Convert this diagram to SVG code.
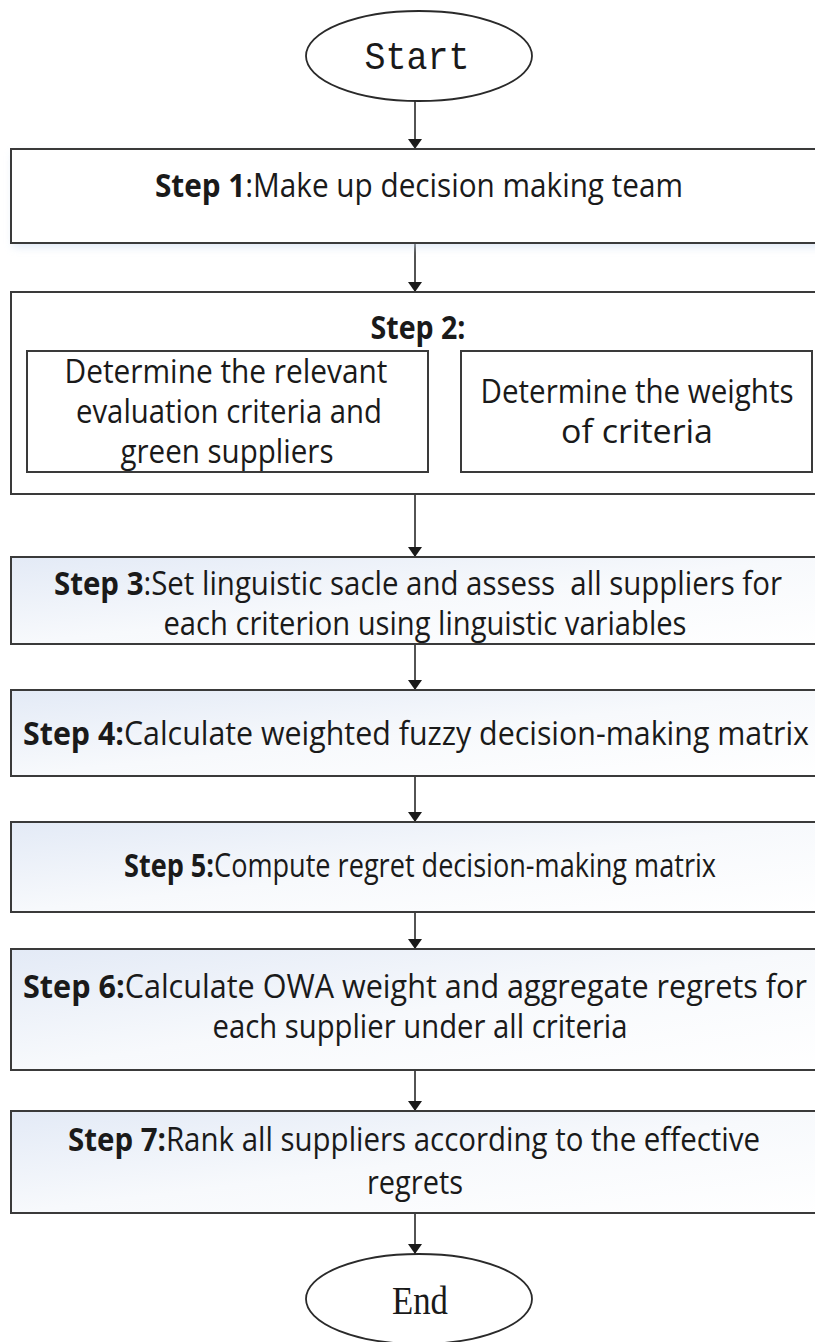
<svg xmlns="http://www.w3.org/2000/svg" width="815" height="1342" viewBox="0 0 815 1342">
<defs>
<style>
.box{fill:#ffffff;stroke:#3a3a3a;stroke-width:2}
.gbox{fill:url(#grad);stroke:#3a3a3a;stroke-width:2}
.t{font-family:"Open Sans","Liberation Sans",sans-serif;font-size:32px;fill:#1a1a1a;text-anchor:middle}
.b{font-weight:bold}
.conn{stroke:#1a1a1a;stroke-width:1.5;fill:none;marker-end:url(#arr)}
.ell{fill:#ffffff;stroke:#2a2a2a;stroke-width:1.8}
</style>
<linearGradient id="grad" x1="0" y1="0" x2="1" y2="1">
<stop offset="0" stop-color="#e3eaf6"/>
<stop offset="0.5" stop-color="#f7f9fc"/>
<stop offset="1" stop-color="#ffffff"/>
</linearGradient>
<filter id="sh" x="-5%" y="-20%" width="110%" height="150%">
<feGaussianBlur stdDeviation="4"/>
</filter>
<marker id="arr" viewBox="0 0 10 14" refX="10" refY="7" markerWidth="10" markerHeight="14" markerUnits="userSpaceOnUse" orient="auto">
<path d="M0,0 L10,7 L0,14 Z" fill="#1a1a1a"/>
</marker>
</defs>
<rect width="815" height="1342" fill="#ffffff"/>

<g id="connectors">
<line class="conn" x1="415" y1="101" x2="415" y2="149"/>
<line class="conn" x1="415" y1="243" x2="415" y2="292"/>
<line class="conn" x1="415" y1="494" x2="415" y2="557"/>
<line class="conn" x1="415" y1="644" x2="415" y2="690"/>
<line class="conn" x1="415" y1="776" x2="415" y2="822"/>
<line class="conn" x1="415" y1="912" x2="415" y2="949"/>
<line class="conn" x1="415" y1="1070" x2="415" y2="1111"/>
<line class="conn" x1="415" y1="1213" x2="415" y2="1254"/>
</g>

<g id="start">
<ellipse class="ell" cx="419" cy="56" rx="113" ry="45"/>
<text x="417" y="69" font-family="Liberation Mono, monospace" font-size="38" fill="#1a1a1a" text-anchor="middle" textLength="105" lengthAdjust="spacingAndGlyphs">Start</text>
</g>

<g id="step1">
<rect x="13" y="153" width="820" height="94" fill="#c9d8ef" filter="url(#sh)" opacity="0.6"/>
<rect class="box" x="11" y="149" width="820" height="94"/>
<text class="t" x="419" y="197" textLength="528" lengthAdjust="spacingAndGlyphs"><tspan class="b">Step 1</tspan>:Make up decision making team</text>
</g>

<g id="step2">
<rect class="box" x="11" y="292" width="820" height="202"/>
<text class="t b" x="418" y="339" textLength="95" lengthAdjust="spacingAndGlyphs">Step 2:</text>
<g id="step2a">
<rect class="box" x="27" y="351" width="401" height="121" stroke-width="1.6"/>
<text class="t" x="226" y="383" textLength="323" lengthAdjust="spacingAndGlyphs">Determine the relevant</text>
<text class="t" x="229" y="423" textLength="306" lengthAdjust="spacingAndGlyphs">evaluation criteria and</text>
<text class="t" x="227" y="463" textLength="213" lengthAdjust="spacingAndGlyphs">green suppliers</text>
</g>
<g id="step2b">
<rect class="box" x="461" y="351" width="351" height="121" stroke-width="1.6"/>
<text class="t" x="637" y="403" textLength="313" lengthAdjust="spacingAndGlyphs">Determine the weights</text>
<text class="t" x="637" y="443" textLength="152" lengthAdjust="spacingAndGlyphs">of criteria</text>
</g>
</g>

<g id="step3">
<rect class="gbox" x="11" y="557" width="820" height="87"/>
<text class="t" x="418" y="595" textLength="728" lengthAdjust="spacingAndGlyphs"><tspan class="b">Step 3</tspan>:Set linguistic sacle and assess&#160; all suppliers for</text>
<text class="t" x="425" y="635" textLength="523" lengthAdjust="spacingAndGlyphs">each criterion using linguistic variables</text>
</g>

<g id="step4">
<rect class="gbox" x="11" y="690" width="820" height="86"/>
<text class="t" x="416" y="745" textLength="786" lengthAdjust="spacingAndGlyphs"><tspan class="b">Step 4:</tspan>Calculate weighted fuzzy decision-making matrix</text>
</g>

<g id="step5">
<rect class="gbox" x="11" y="822" width="820" height="90"/>
<text class="t" x="420" y="877" textLength="592" lengthAdjust="spacingAndGlyphs"><tspan class="b">Step 5:</tspan>Compute regret decision-making matrix</text>
</g>

<g id="step6">
<rect class="gbox" x="11" y="949" width="820" height="121"/>
<text class="t" x="415" y="998" textLength="784" lengthAdjust="spacingAndGlyphs"><tspan class="b">Step 6:</tspan>Calculate OWA weight and aggregate regrets for</text>
<text class="t" x="420" y="1038" textLength="415" lengthAdjust="spacingAndGlyphs">each supplier under all criteria</text>
</g>

<g id="step7">
<rect class="gbox" x="11" y="1111" width="820" height="102"/>
<text class="t" x="414" y="1151" textLength="692" lengthAdjust="spacingAndGlyphs"><tspan class="b">Step 7:</tspan>Rank all suppliers according to the effective</text>
<text class="t" x="415" y="1194" textLength="96" lengthAdjust="spacingAndGlyphs">regrets</text>
</g>

<g id="end">
<ellipse class="ell" cx="419" cy="1299" rx="113" ry="45"/>
<text x="420" y="1314" font-family="Liberation Serif, serif" font-size="40" fill="#1a1a1a" text-anchor="middle" textLength="56" lengthAdjust="spacingAndGlyphs">End</text>
</g>
</svg>
